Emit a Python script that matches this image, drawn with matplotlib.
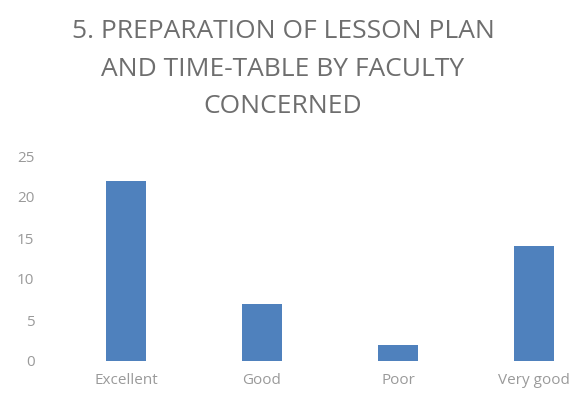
import matplotlib
matplotlib.use("Agg")
import matplotlib.pyplot as plt

categories = ["Excellent", "Good", "Poor", "Very good"]
values = [22, 7, 2, 14]
yticks = [0, 5, 10, 15, 20, 25]
title = "5. PREPARATION OF LESSON PLAN\nAND TIME-TABLE BY FACULTY\nCONCERNED"

W, H = 580, 403
fig = plt.figure(figsize=(W / 100, H / 100), dpi=100)
fig.patch.set_facecolor("white")

left, right = 58, 580
bottom, top = 42, 247
ax = fig.add_axes([left / W, bottom / H, (right - left) / W, (top - bottom) / H])

x = list(range(len(categories)))
ax.bar(x, values, width=0.29, color="#4f81bd")

ax.set_xlim(-0.5, -0.5 + (right - left) / 136)
ax.set_ylim(0, 25)
ax.set_yticks(yticks)
ax.set_xticks(x)
ax.set_xticklabels(categories)

for s in ax.spines.values():
    s.set_visible(False)
ax.tick_params(axis="both", length=0, colors="#9a9a9a", labelsize=11)
ax.tick_params(axis="y", pad=17)
ax.tick_params(axis="x", pad=9)
for lab in ax.get_xticklabels() + ax.get_yticklabels():
    lab.set_family("Open Sans")

fig.text(283 / W, 1 - 69 / H, title, ha="center", va="center", fontsize=19,
         color="#6e6e6e", family="Open Sans", linespacing=1.68)

fig.savefig("out.png", dpi=100, facecolor="white")
